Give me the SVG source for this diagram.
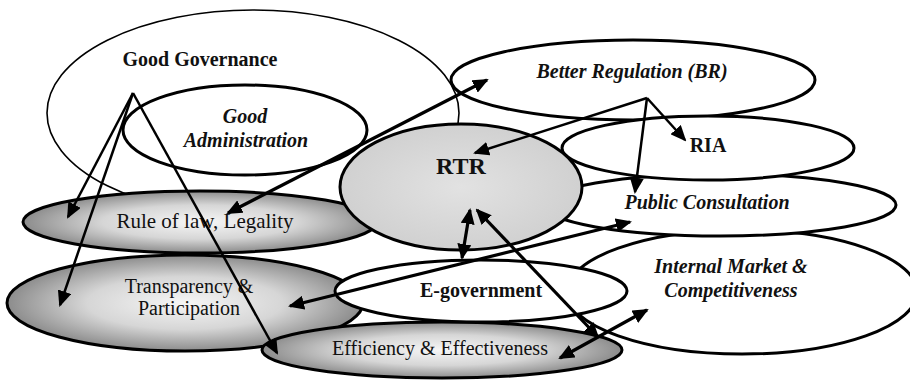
<svg xmlns="http://www.w3.org/2000/svg" width="910" height="382" viewBox="0 0 910 382">
<defs>
<radialGradient id="gGray" cx="0.5" cy="0.5" r="0.5">
<stop offset="0" stop-color="#f6f6f6"/>
<stop offset="0.55" stop-color="#d6d6d6"/>
<stop offset="1" stop-color="#8c8c8c"/>
</radialGradient>
<radialGradient id="gRTR" cx="0.5" cy="0.5" r="0.6">
<stop offset="0" stop-color="#e2e2e2"/>
<stop offset="1" stop-color="#cdcdcd"/>
</radialGradient>
<marker id="ah" markerUnits="userSpaceOnUse" markerWidth="16" markerHeight="14" viewBox="0 0 16 14" refX="14" refY="7" orient="auto-start-reverse">
<path d="M0,0 L16,7 L0,14 z" fill="#000"/>
</marker>
</defs>
<style>
.n{stroke:#000;stroke-width:3}
.w{fill:#fff}
.g{fill:url(#gGray)}
.t{font-family:"Liberation Serif","Times New Roman",serif;font-size:20px;text-anchor:middle;fill:#111}
.b{font-weight:bold}
.i{font-style:italic}
.c{fill:none;stroke:#000;stroke-width:3.2}
.c2{fill:none;stroke:#000;stroke-width:2.5}
</style>
<rect width="910" height="382" fill="#fff"/>

<g id="good-governance">
<ellipse cx="253" cy="113" rx="206" ry="103" fill="#fff" stroke="#000" stroke-width="1.6"/>
<text class="t b" x="200" y="66">Good Governance</text>
</g>
<g id="good-administration">
<ellipse class="n w" cx="245" cy="130" rx="122" ry="45"/>
<text class="t b i" x="245" y="123">Good</text>
<text class="t b i" x="246" y="147">Administration</text>
</g>
<g id="better-regulation">
<ellipse class="n w" cx="633" cy="80" rx="182" ry="40"/>
<text class="t b i" x="632" y="78">Better Regulation (BR)</text>
</g>
<g id="internal-market">
<ellipse class="n w" cx="742" cy="292" rx="175" ry="62"/>
<text class="t b i" x="731" y="273">Internal Market &amp;</text>
<text class="t b i" x="731" y="297">Competitiveness</text>
</g>
<g id="public-consultation">
<ellipse class="n w" cx="720" cy="205" rx="176" ry="31"/>
<text class="t b i" x="707" y="209">Public Consultation</text>
</g>
<g id="ria">
<ellipse class="n w" cx="708" cy="148" rx="146" ry="32"/>
<text class="t b" x="708" y="152">RIA</text>
</g>
<g id="rule-of-law">
<ellipse class="n g" cx="200" cy="222" rx="177" ry="31"/>
<text class="t" x="205" y="228" style="font-size:21px">Rule of law, Legality</text>
</g>
<g id="rtr">
<ellipse class="n" cx="461" cy="187" rx="121" ry="63" fill="url(#gRTR)"/>
<text class="t b" x="461" y="174" style="font-size:24px">RTR</text>
</g>
<g id="transparency">
<ellipse class="n g" cx="185" cy="303" rx="178" ry="48"/>
<text class="t" x="189" y="293">Transparency &amp;</text>
<text class="t" x="189" y="315">Participation</text>
</g>
<g id="e-government">
<ellipse class="n w" cx="481" cy="291" rx="146" ry="31"/>
<text class="t b" x="481" y="297">E-government</text>
</g>
<g id="efficiency">
<ellipse class="n g" cx="442" cy="350" rx="180" ry="28"/>
<text class="t" x="440" y="355">Efficiency &amp; Effectiveness</text>
</g>

<g id="connectors">
<line class="c2" x1="133" y1="93" x2="68" y2="217" marker-end="url(#ah)"/>
<line class="c2" x1="133" y1="93" x2="60" y2="305" marker-end="url(#ah)"/>
<line class="c2" x1="133" y1="93" x2="277" y2="353" marker-end="url(#ah)"/>
<line class="c" x1="228" y1="213" x2="487" y2="80" marker-start="url(#ah)" marker-end="url(#ah)"/>
<line class="c2" x1="647" y1="98" x2="475" y2="153" marker-end="url(#ah)"/>
<line class="c2" x1="647" y1="98" x2="685" y2="140" marker-end="url(#ah)"/>
<line class="c2" x1="647" y1="98" x2="635" y2="192" marker-end="url(#ah)"/>
<line class="c" x1="470" y1="210" x2="462" y2="258" marker-start="url(#ah)" marker-end="url(#ah)"/>
<line class="c" x1="477" y1="210" x2="598" y2="337" marker-start="url(#ah)" marker-end="url(#ah)"/>
<line class="c" x1="560" y1="358" x2="647" y2="310" marker-start="url(#ah)" marker-end="url(#ah)"/>
<line class="c" x1="290" y1="306" x2="630" y2="222" marker-start="url(#ah)" marker-end="url(#ah)"/>
</g>
</svg>
